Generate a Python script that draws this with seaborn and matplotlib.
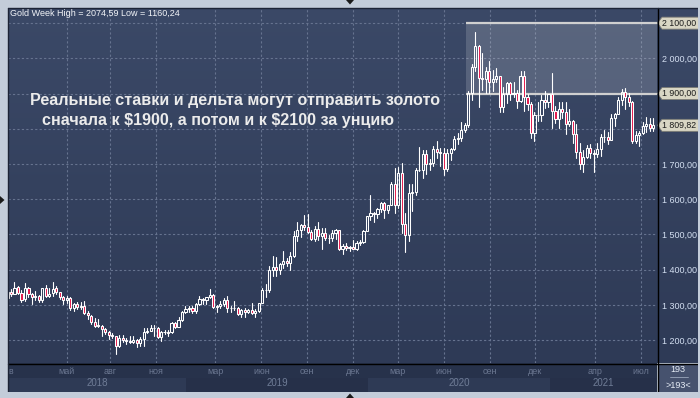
import matplotlib
matplotlib.use("Agg")
import numpy as np
import pandas as pd
import matplotlib.pyplot as plt
import matplotlib.transforms as mtransforms
from matplotlib.patches import Rectangle, Polygon
from matplotlib.lines import Line2D
import seaborn as sns

# ---------------- data (weekly OHLC, gold, USD) ----------------
first_week = "2018-01-01"
opens = [1303, 1320, 1338, 1332, 1350, 1333, 1316, 1347, 1330, 1322, 1324, 1313, 1348, 1325, 1333, 1347, 1336, 1323, 1314, 1319,
         1291, 1302, 1294, 1298, 1278, 1269, 1252, 1241, 1241, 1231, 1223, 1214, 1211, 1184, 1206, 1200, 1198, 1194, 1199, 1192,
         1203, 1222, 1227, 1233, 1233, 1209, 1222, 1222, 1222, 1248, 1238, 1256, 1279, 1287, 1290, 1282, 1303, 1318, 1314, 1322,
         1328, 1294, 1298, 1302, 1313, 1292, 1291, 1290, 1275, 1286, 1279, 1286, 1277, 1283, 1305, 1341, 1341, 1400, 1409, 1399,
         1415, 1426, 1419, 1440, 1497, 1513, 1527, 1520, 1506, 1488, 1516, 1497, 1505, 1489, 1490, 1505, 1514, 1459, 1468, 1462,
         1464, 1460, 1476, 1478, 1511, 1552, 1562, 1557, 1571, 1589, 1570, 1584, 1643, 1585, 1674, 1530, 1498, 1617, 1620, 1684,
         1683, 1728, 1700, 1703, 1743, 1734, 1730, 1685, 1730, 1743, 1771, 1775, 1798, 1810, 1902, 1975, 2035, 1944, 1940, 1964,
         1934, 1941, 1950, 1862, 1900, 1930, 1899, 1902, 1879, 1951, 1889, 1871, 1788, 1839, 1839, 1881, 1877, 1898, 1850, 1828,
         1856, 1847, 1814, 1823, 1784, 1734, 1700, 1719, 1745, 1732, 1728, 1744, 1777, 1777, 1769, 1831, 1843, 1881, 1905, 1891,
         1877, 1764, 1781, 1787, 1808, 1815, 1802]
highs = [1326, 1340, 1344, 1366, 1354, 1341, 1361, 1351, 1333, 1340, 1327, 1349, 1356, 1347, 1365, 1353, 1337, 1326, 1326, 1322,
         1304, 1307, 1307, 1310, 1282, 1272, 1262, 1260, 1243, 1235, 1226, 1220, 1212, 1214, 1214, 1207, 1212, 1211, 1203, 1208,
         1233, 1233, 1243, 1243, 1237, 1226, 1230, 1230, 1250, 1251, 1266, 1283, 1298, 1298, 1298, 1304, 1326, 1319, 1323, 1346,
         1330, 1299, 1311, 1320, 1324, 1297, 1310, 1293, 1288, 1290, 1289, 1304, 1287, 1306, 1348, 1358, 1411, 1439, 1437, 1419,
         1453, 1434, 1449, 1510, 1535, 1531, 1555, 1557, 1512, 1523, 1535, 1519, 1517, 1499, 1512, 1516, 1514, 1474, 1477, 1467,
         1485, 1480, 1483, 1514, 1553, 1611, 1565, 1575, 1591, 1592, 1584, 1649, 1689, 1692, 1704, 1561, 1644, 1644, 1690, 1747,
         1739, 1739, 1715, 1751, 1765, 1745, 1745, 1744, 1745, 1779, 1789, 1818, 1817, 1906, 1984, 2075, 2039, 2015, 1976, 1992,
         1966, 1973, 1951, 1918, 1933, 1933, 1932, 1911, 1965, 1965, 1900, 1875, 1848, 1875, 1897, 1906, 1900, 1959, 1865, 1875,
         1875, 1875, 1855, 1826, 1815, 1760, 1740, 1755, 1756, 1740, 1759, 1785, 1798, 1790, 1843, 1846, 1890, 1913, 1916, 1903,
         1878, 1795, 1795, 1818, 1834, 1832, 1832]
lows = [1302, 1307, 1325, 1331, 1330, 1307, 1311, 1321, 1303, 1315, 1308, 1307, 1321, 1322, 1326, 1332, 1316, 1302, 1304, 1285,
        1282, 1287, 1289, 1273, 1260, 1245, 1237, 1237, 1211, 1218, 1204, 1206, 1160, 1180, 1195, 1190, 1193, 1192, 1180, 1183,
        1183, 1221, 1225, 1212, 1206, 1197, 1217, 1211, 1221, 1235, 1236, 1255, 1278, 1280, 1276, 1277, 1300, 1303, 1302, 1320,
        1291, 1281, 1290, 1297, 1281, 1280, 1285, 1270, 1266, 1267, 1278, 1274, 1266, 1280, 1305, 1323, 1337, 1382, 1382, 1387,
        1404, 1411, 1400, 1437, 1480, 1492, 1512, 1504, 1484, 1480, 1485, 1459, 1484, 1475, 1481, 1486, 1456, 1445, 1456, 1452,
        1458, 1456, 1470, 1475, 1510, 1542, 1536, 1546, 1563, 1547, 1562, 1584, 1562, 1576, 1504, 1451, 1482, 1567, 1611, 1680,
        1661, 1672, 1682, 1693, 1717, 1693, 1670, 1679, 1711, 1741, 1757, 1765, 1790, 1806, 1882, 1965, 1863, 1910, 1902, 1902,
        1906, 1932, 1849, 1848, 1873, 1882, 1890, 1860, 1877, 1850, 1853, 1775, 1764, 1822, 1822, 1858, 1863, 1802, 1817, 1803,
        1830, 1785, 1807, 1760, 1717, 1687, 1676, 1717, 1718, 1678, 1720, 1724, 1763, 1756, 1767, 1808, 1843, 1868, 1856, 1866,
        1761, 1761, 1750, 1784, 1791, 1794, 1795]
closes = [1322, 1338, 1332, 1348, 1333, 1315, 1347, 1330, 1323, 1324, 1313, 1347, 1325, 1332, 1345, 1336, 1323, 1314, 1320, 1291,
          1302, 1294, 1298, 1278, 1270, 1252, 1241, 1241, 1231, 1223, 1214, 1211, 1184, 1206, 1200, 1198, 1194, 1199, 1192, 1203,
          1222, 1227, 1233, 1233, 1210, 1222, 1222, 1221, 1248, 1238, 1256, 1279, 1287, 1290, 1282, 1303, 1318, 1314, 1322, 1328,
          1294, 1298, 1302, 1313, 1292, 1291, 1290, 1275, 1286, 1279, 1286, 1277, 1283, 1305, 1341, 1341, 1400, 1409, 1399, 1415,
          1426, 1419, 1440, 1497, 1513, 1527, 1520, 1506, 1488, 1516, 1497, 1505, 1489, 1490, 1505, 1514, 1459, 1468, 1462, 1464,
          1460, 1476, 1478, 1511, 1552, 1562, 1557, 1571, 1589, 1570, 1584, 1643, 1585, 1674, 1530, 1498, 1617, 1620, 1684, 1683,
          1728, 1700, 1703, 1743, 1734, 1730, 1685, 1730, 1743, 1771, 1775, 1798, 1810, 1902, 1975, 2035, 1944, 1940, 1964, 1934,
          1941, 1950, 1862, 1900, 1930, 1899, 1902, 1879, 1951, 1889, 1871, 1788, 1839, 1839, 1881, 1877, 1898, 1850, 1828, 1856,
          1847, 1814, 1823, 1784, 1734, 1700, 1719, 1745, 1732, 1728, 1744, 1777, 1777, 1769, 1831, 1843, 1881, 1905, 1891, 1877,
          1764, 1781, 1787, 1808, 1815, 1802, 1809.82]

month_tick_dates = ["2018-01-08", "2018-05-07", "2018-08-01", "2018-11-01", "2019-03-01", "2019-06-01", "2019-09-01",
                    "2019-12-01", "2020-03-01", "2020-06-01", "2020-09-01", "2020-12-01", "2021-04-01", "2021-07-01"]
month_tick_labels = ["янв", "май", "авг", "ноя", "мар", "июн", "сен", "дек", "мар", "июн", "сен", "дек", "апр", "июл"]
year_labels = ["2018", "2019", "2020", "2021"]
year_boundaries = ["2019-01-01", "2020-01-01", "2021-01-01"]
price_ticks = [1200, 1300, 1400, 1500, 1600, 1700, 1800, 1900, 2000, 2100]
zone_low, zone_high = 1900, 2100
zone_start = "2020-07-16"
last_price = 1809.82
title_text = "Gold Week High = 2074,59 Low = 1160,24"
note_line1 = "Реальные ставки и дельта могут отправить золото"
note_line2 = "сначала к \\$1900, а потом и к \\$2100 за унцию"
bars_label_top = "193"
bars_label_bottom = ">193<"
view_start = "2018-01-09"
view_end = "2021-08-02 17:00"
y_min, y_max = 1135, 2143

# ---------------- styling ----------------
sns.set_theme(style="dark")
plt.rcParams['font.family'] = ['Liberation Sans', 'DejaVu Sans']

W, H = 700, 398
def fx(px): return px / W
def fy(py): return 1 - py / H

BG_TOP = np.array([0x3b, 0x49, 0x67]) / 255
BG_BOT = np.array([0x2e, 0x3a, 0x56]) / 255
GRID = "#66738f"
RED = "#e5194c"
WHITE = "#ffffff"

fig = plt.figure(figsize=(W / 100, H / 100), dpi=100, facecolor="#c3ccd9")

# gradient background for plot + price scale
bg = fig.add_axes([fx(8), fy(363), (698 - 8) / W, (363 - 8) / H], zorder=-5)
grad = np.linspace(0, 1, 256)[:, None, None]
img = BG_TOP * (1 - grad) + BG_BOT * grad
bg.imshow(np.repeat(img, 2, axis=1), aspect="auto", extent=[0, 1, 0, 1])
bg.set_axis_off()

ax = fig.add_axes([fx(8), fy(363), (657 - 8) / W, (363 - 8) / H], zorder=1)
ax.set_facecolor("none")

df = pd.DataFrame({
    "date": pd.date_range(first_week, periods=len(closes), freq="7D"),
    "open": opens, "high": highs, "low": lows, "close": closes,
})
df["top"] = df[["open", "close"]].max(axis=1)
df["bot"] = df[["open", "close"]].min(axis=1)
df["up"] = df["close"] >= df["open"]

# grid
for p in price_ticks:
    ax.axhline(p, color=GRID, lw=0.8, ls=(0, (2, 2)), zorder=1)
for d in month_tick_dates:
    ax.axvline(pd.Timestamp(d), color=GRID, lw=0.8, ls=(0, (2, 2)), zorder=1)

# target zone
zs, ve = pd.Timestamp(zone_start), pd.Timestamp(view_end)
ax.fill_between([zs, ve], zone_low, zone_high, color="white", alpha=0.16, lw=0, zorder=2)
ax.hlines([zone_low, zone_high], zs, ve, color="#d0d0d0", lw=1.6, zorder=2.5)

# wicks through seaborn (upper and lower segments separately, bodies stay hollow)
wick_rows = []
for i, r in df.iterrows():
    wick_rows += [{"date": r.date, "price": r.high, "seg": 2 * i},
                  {"date": r.date, "price": r.top, "seg": 2 * i},
                  {"date": r.date, "price": r.bot, "seg": 2 * i + 1},
                  {"date": r.date, "price": r.low, "seg": 2 * i + 1}]
wicks = pd.DataFrame(wick_rows)
sns.lineplot(data=wicks, x="date", y="price", units="seg", estimator=None, sort=False,
             color=WHITE, lw=0.8, ax=ax, zorder=3)

# bodies
heights = (df["top"] - df["bot"]).clip(lower=0.8)
face = [("none" if u else RED) for u in df["up"]]
ax.bar(df["date"], heights, bottom=df["bot"], width=4.3, color=face, edgecolor=WHITE,
       linewidth=0.75, zorder=4)

fmt = lambda v: f"{v:,.2f}".replace(",", " ").replace(".", ",")
tagged = {zone_low, zone_high, round(last_price, -2)}

vs = pd.Timestamp(view_start)
ax.set_xlim(vs, ve)
ax.set_ylim(y_min, y_max)
ax.set_xlabel("")
ax.set_ylabel("")
ax.grid(False)
for s in ax.spines.values():
    s.set_visible(False)
ax.tick_params(axis="x", bottom=False, labelbottom=False)
ax.yaxis.tick_right()
ax.set_yticks(price_ticks)
ax.set_yticklabels(["" if p in tagged else fmt(p) for p in price_ticks])
ax.tick_params(axis="y", length=0, pad=3.6, labelsize=6.5, labelcolor="#d3dff1")

# price tags on the scale
blend = mtransforms.blended_transform_factory(fig.transFigure, ax.transData)
half = 6.0 * (y_max - y_min) / (363 - 8)
def tag(value, text):
    pts = [(fx(657.5), value), (fx(662), value + half), (fx(699), value + half),
           (fx(699), value - half), (fx(662), value - half)]
    ax.add_patch(Polygon(pts, closed=True, transform=blend, clip_on=False,
                         facecolor="#d9d6c4", edgecolor="#7d7d76", lw=0.6, zorder=6))
    ax.text(fx(662.5), value, text, transform=blend, ha="left", va="center",
            fontsize=6.3, color="#1b1b1b", zorder=7, clip_on=False)
tag(zone_high, fmt(zone_high))
tag(zone_low, fmt(zone_low))
tag(last_price, fmt(last_price))

# bottom time band
axb = fig.add_axes([fx(8), fy(392), (657 - 8) / W, (392 - 363) / H], sharex=ax, zorder=0)
axb.set_ylim(0, 29)
axb.axvspan(vs, ve, 0, 1, color="#27324b", lw=0)
bounds = [vs] + [pd.Timestamp(b) for b in year_boundaries] + [ve]
band_cols = ["#2e3a55", "#263049", "#2e3a55", "#263049"]
for k, lab in enumerate(year_labels):
    a, b = bounds[k], bounds[k + 1]
    axb.fill_between([a, b], 0, 14, color=band_cols[k], lw=0)
    axb.text(a + (b - a) / 2, 9, lab, ha="center", va="center", fontsize=7, color="#6f7c96")
for d, lab in zip(month_tick_dates, month_tick_labels):
    axb.text(pd.Timestamp(d), 20, lab, ha="center", va="center", fontsize=6.5, color="#6b7791", clip_on=True)
axb.set_axis_off()
ax.set_xlim(vs, ve)

# bars-count box
fig.patches.append(Rectangle((fx(658), fy(392)), fx(698) - fx(658), (392 - 364) / H,
                             transform=fig.transFigure, facecolor="#46526e", lw=0, zorder=5))
fig.text(fx(678), fy(370), bars_label_top, ha="center", va="center", fontsize=6.5, color="#e6edf6", zorder=6)
fig.lines.append(Line2D([fx(670), fx(688)], [fy(377), fy(377)], transform=fig.transFigure, color="#9aa6bb", lw=0.6, zorder=6))
fig.text(fx(678), fy(385), bars_label_bottom, ha="center", va="center", fontsize=6.5, color="#e6edf6", zorder=6)

# separators and borders
fig.lines.append(Line2D([fx(657.5), fx(657.5)], [fy(8), fy(392)], transform=fig.transFigure, color="black", lw=1.0, zorder=8))
fig.lines.append(Line2D([fx(8), fx(698)], [fy(363.5), fy(363.5)], transform=fig.transFigure, color="black", lw=1.0, zorder=8))
fig.lines.append(Line2D([fx(7.5), fx(7.5)], [fy(7.5), fy(392)], transform=fig.transFigure, color="#1c2335", lw=1.0, zorder=8))
fig.lines.append(Line2D([fx(7.5), fx(698)], [fy(7.5), fy(7.5)], transform=fig.transFigure, color="#1c2335", lw=1.0, zorder=8))
frame = "#c3ccd9"
for (x0, y0, x1, y1) in [(0, 0, 7, 398), (0, 0, 700, 7), (0, 392, 700, 398), (698, 0, 700, 398)]:
    fig.patches.append(Rectangle((fx(x0), fy(y1)), fx(x1) - fx(x0), (y1 - y0) / H,
                                 transform=fig.transFigure, facecolor=frame, lw=0, zorder=9))
# splitter arrows
for pts in [[(346, 0), (354, 0), (350, 4.5)], [(346, 398), (354, 398), (350, 393.5)], [(0, 196), (0, 204), (4.5, 200)]]:
    fig.patches.append(Polygon([(fx(a), fy(b)) for a, b in pts], closed=True, transform=fig.transFigure,
                               facecolor="#1a1a1a", lw=0, zorder=10))

# texts
fig.text(fx(10), fy(14), title_text, ha="left", va="center", fontsize=6.5, color="#f2f4f8", zorder=10)
fig.text(fx(30), fy(101), note_line1, ha="left", va="center", fontsize=11.6, fontweight="bold", color="#ebebeb", zorder=10)
fig.text(fx(42), fy(120), note_line2, ha="left", va="center", fontsize=11.6, fontweight="bold", color="#ebebeb", zorder=10)

fig.savefig("out.png", dpi=100, facecolor=fig.get_facecolor())
